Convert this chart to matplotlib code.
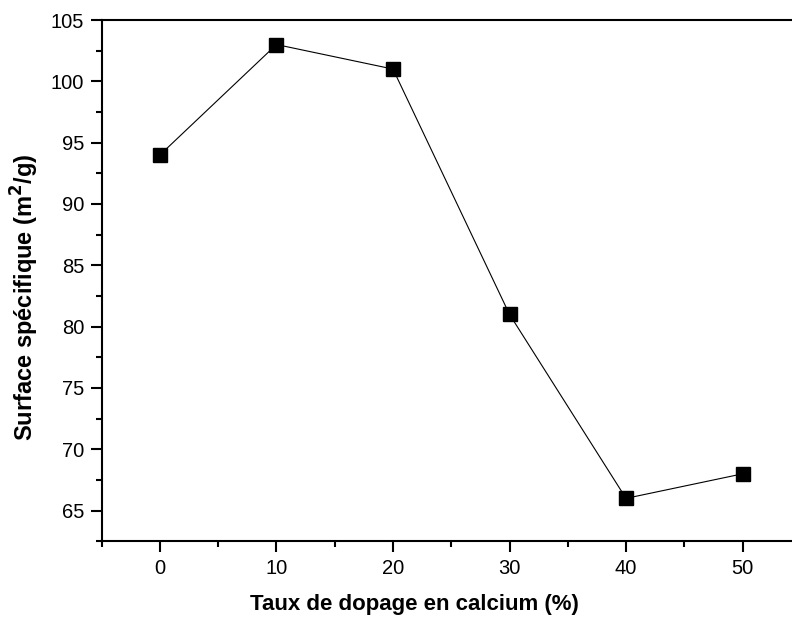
import matplotlib
matplotlib.use('Agg')
import matplotlib.pyplot as plt
from matplotlib.ticker import MultipleLocator

plt.rcParams['font.family'] = ['Liberation Sans', 'DejaVu Sans']

taux = [0, 10, 20, 30, 40, 50]
surface = [94, 103, 101, 81, 66, 68]

fig = plt.figure(figsize=(7.92, 6.19), dpi=100)
# right spine falls just outside the picture, as in the original
ax = fig.add_axes([101.7/792, 1-541.3/619, (800.8-101.7)/792, (541.3-20)/619])

ax.plot(taux, surface, color='k', lw=0.8, marker='s', ms=9.5, mfc='k', mec='k')

ax.set_xlim(-5, 55)
ax.set_ylim(62.5, 105)
ax.xaxis.set_major_locator(MultipleLocator(10))
ax.xaxis.set_minor_locator(MultipleLocator(5))
ax.yaxis.set_major_locator(MultipleLocator(5))
ax.yaxis.set_minor_locator(MultipleLocator(2.5))

for s in ax.spines.values():
    s.set_linewidth(1.5)
ax.tick_params(which='major', direction='out', length=8, width=1.5, labelsize=14.5, pad=4.5)
ax.tick_params(which='minor', direction='out', length=4.5, width=1.5)
ax.set_xticks([0, 10, 20, 30, 40, 50])
ax.set_yticks([65, 70, 75, 80, 85, 90, 95, 100, 105])

ax.set_xlabel("Taux de dopage en calcium (%)", fontsize=16, fontweight='bold')
ax.set_ylabel("Surface sp\u00e9cifique (m$^\\mathbf{2}$/g)", fontsize=17, fontweight='bold')
ax.xaxis.set_label_coords(0.4467, -0.101)
ax.yaxis.set_label_coords(-0.087, 0.4677)

fig.savefig('out.png', dpi=100)
